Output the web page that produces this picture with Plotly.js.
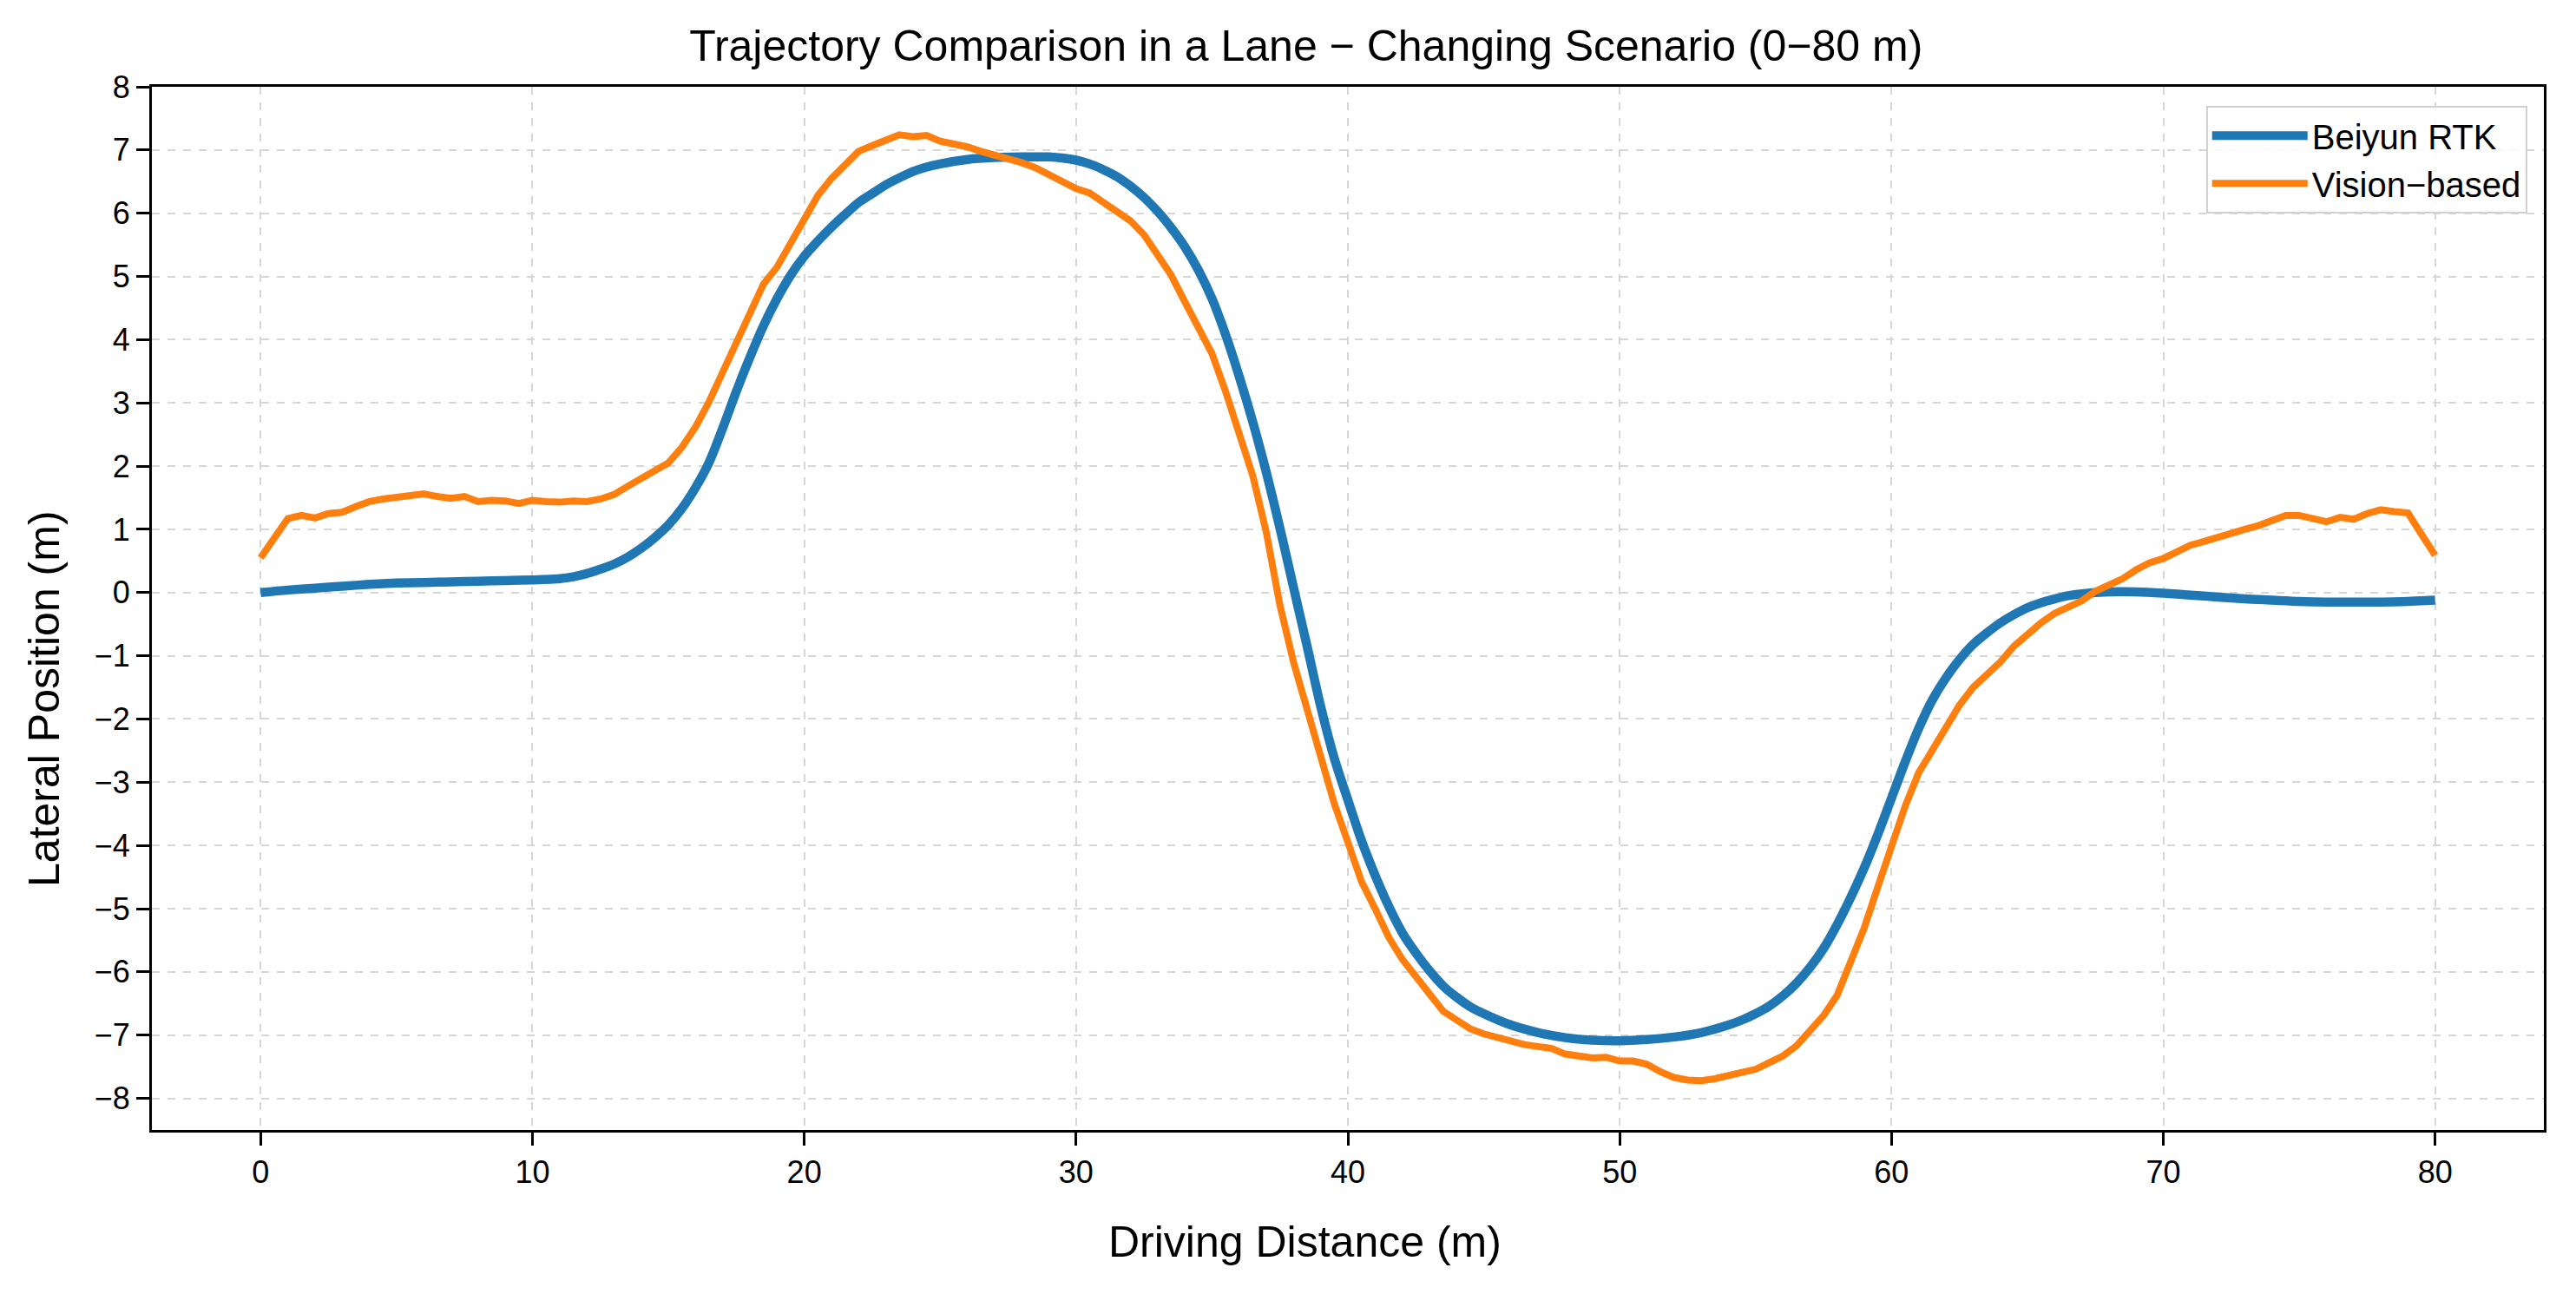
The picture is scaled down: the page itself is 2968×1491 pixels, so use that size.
<!DOCTYPE html>
<html>
<head>
<meta charset="utf-8">
<script src="https://cdn.plot.ly/plotly-3.0.1.min.js"></script>
<style>
  html, body { margin: 0; padding: 0; background: #fff; }
  #chart { width: 2968px; height: 1491px; }
</style>
</head>
<body>
<div id="chart"></div>
<script>
// Beiyun RTK reference trajectory
var rtkX = [0, 1, 2, 3, 4, 5, 6, 7, 8, 9, 10, 11, 11.5, 12, 12.5, 13, 13.5, 14, 14.5, 15, 15.5, 16, 16.5, 17, 17.5,
  18, 18.5, 19, 19.5, 20, 20.5, 21, 21.5, 22, 22.5, 23, 23.5, 24, 24.5, 25, 26, 27, 28, 29, 30, 30.5, 31, 31.5,
  32, 32.5, 33, 33.5, 34, 34.5, 35, 35.5, 36, 36.5, 37, 37.5, 38, 38.5, 39, 39.5, 40, 40.5, 41, 41.5, 42, 42.5,
  43, 43.5, 44, 44.5, 45, 46, 47, 48, 49, 50, 51, 52, 53, 54, 54.5, 55, 55.5, 56, 56.5, 57, 57.5, 58, 58.5, 59,
  59.5, 60, 60.5, 61, 61.5, 62, 62.5, 63, 63.5, 64, 64.5, 65, 65.5, 66, 66.5, 67, 68, 69, 70, 71, 72, 73, 74,
  75, 76, 77, 78, 79, 80];
var rtkY = [0.0, 0.04, 0.07, 0.10, 0.13, 0.15, 0.16, 0.17, 0.18, 0.19, 0.20, 0.22, 0.25, 0.30, 0.37, 0.45, 0.56,
  0.70, 0.87, 1.07, 1.33, 1.66, 2.06, 2.60, 3.18, 3.72, 4.22, 4.65, 5.02, 5.32, 5.56, 5.78, 5.98, 6.17, 6.31,
  6.45, 6.56, 6.66, 6.73, 6.78, 6.85, 6.88, 6.89, 6.89, 6.84, 6.78, 6.69, 6.58, 6.43, 6.25, 6.03, 5.77, 5.47,
  5.10, 4.65, 4.08, 3.42, 2.70, 1.90, 1.02, 0.08, -0.85, -1.80, -2.62, -3.28, -3.92, -4.47, -4.96, -5.38, -5.70,
  -5.98, -6.22, -6.40, -6.55, -6.66, -6.84, -6.96, -7.04, -7.08, -7.09, -7.07, -7.03, -6.96, -6.84, -6.76,
  -6.66, -6.54, -6.38, -6.18, -5.93, -5.63, -5.25, -4.82, -4.35, -3.82, -3.25, -2.68, -2.15, -1.70, -1.35,
  -1.06, -0.82, -0.64, -0.48, -0.35, -0.24, -0.16, -0.10, -0.05, -0.02, 0.01, 0.01, -0.01, -0.04, -0.07,
  -0.10, -0.12, -0.14, -0.15, -0.15, -0.15, -0.14, -0.12];

// Vision-based estimate
var visionX = [0, 0.5, 1, 1.5, 2, 2.5, 3, 3.5, 4, 4.5, 5, 5.5, 6, 6.5, 7, 7.5, 8, 8.5, 9, 9.5, 10, 10.5, 11, 11.5,
  12, 12.5, 13, 13.5, 14, 14.5, 15, 15.5, 16, 16.5, 17, 17.5, 18, 18.5, 19, 19.5, 20, 20.5, 21, 21.5, 22, 22.5,
  23, 23.5, 24, 24.5, 25, 25.5, 26, 26.5, 27, 27.5, 28, 28.5, 29, 29.5, 30, 30.5, 31, 31.5, 32, 32.5, 33, 33.5,
  34, 34.5, 35, 35.5, 36, 36.5, 37, 37.5, 38, 38.5, 39, 39.5, 40, 40.5, 41, 41.5, 42, 42.5, 43, 43.5, 44, 44.5,
  45, 45.5, 46, 46.5, 47, 47.5, 48, 48.5, 49, 49.5, 50, 50.5, 51, 51.5, 52, 52.5, 53, 53.5, 54, 54.5, 55, 55.5,
  56, 56.5, 57, 57.5, 58, 58.5, 59, 59.5, 60, 60.5, 61, 61.5, 62, 62.5, 63, 63.5, 64, 64.5, 65, 65.5, 66, 66.5,
  67, 67.5, 68, 68.5, 69, 69.5, 70, 70.5, 71, 71.5, 72, 72.5, 73, 73.5, 74, 74.5, 75, 75.5, 76, 76.5, 77, 77.5,
  78, 78.5, 79, 79.5, 80];
var visionY = [0.55, 0.87, 1.17, 1.22, 1.18, 1.25, 1.27, 1.36, 1.44, 1.48, 1.51, 1.54, 1.56, 1.52, 1.49, 1.52,
  1.44, 1.46, 1.45, 1.41, 1.46, 1.44, 1.43, 1.45, 1.44, 1.48, 1.55, 1.68, 1.80, 1.90, 2.05, 2.30, 2.62, 3.02,
  3.48, 3.95, 4.42, 4.88, 5.15, 5.52, 5.88, 6.28, 6.55, 6.75, 6.98, 7.07, 7.16, 7.24, 7.21, 7.23, 7.14, 7.10,
  7.05, 6.98, 6.92, 6.87, 6.80, 6.72, 6.60, 6.50, 6.39, 6.32, 6.18, 6.03, 5.88, 5.66, 5.35, 5.02, 4.60, 4.20,
  3.78, 3.18, 2.50, 1.85, 0.95, -0.20, -1.10, -1.85, -2.60, -3.34, -3.95, -4.57, -5.00, -5.45, -5.80, -6.08,
  -6.35, -6.62, -6.76, -6.90, -6.98, -7.04, -7.08, -7.15, -7.18, -7.21, -7.30, -7.32, -7.36, -7.35, -7.41,
  -7.41, -7.46, -7.58, -7.67, -7.71, -7.72, -7.69, -7.63, -7.59, -7.54, -7.44, -7.33, -7.17, -6.93, -6.69,
  -6.37, -5.85, -5.30, -4.65, -4.00, -3.38, -2.85, -2.50, -2.12, -1.78, -1.50, -1.30, -1.10, -0.85, -0.65,
  -0.48, -0.33, -0.22, -0.13, 0.02, 0.12, 0.22, 0.36, 0.47, 0.54, 0.66, 0.75, 0.81, 0.88, 0.95, 1.00, 1.06,
  1.13, 1.22, 1.22, 1.16, 1.12, 1.19, 1.16, 1.25, 1.31, 1.28, 1.26, 0.92, 0.59];

var xTicks = [0, 10, 20, 30, 40, 50, 60, 70, 80];
var yTicks = [-8, -7, -6, -5, -4, -3, -2, -1, 0, 1, 2, 3, 4, 5, 6, 7, 8];

var FONT = 'Liberation Sans, Arial, sans-serif';

CHART = document.getElementById('chart');
layout = {
  width: 2968,
  height: 1491,
  paper_bgcolor: '#ffffff',
  plot_bgcolor: '#ffffff',
  margin: {l: 175, r: 37, t: 100, b: 189, autoexpand: false},
  font: {family: FONT, color: '#000000'},
  title: {
    text: 'Trajectory Comparison in a Lane \u2212 Changing Scenario (0\u221280 m)',
    font: {family: FONT, size: 50, color: '#000000'},
    xref: 'container', x: 0.507, xanchor: 'center',
    yref: 'container', y: 0.965, yanchor: 'middle',
  },
  showlegend: true,
  legend: {
    x: 0.993, xanchor: 'right',
    y: 0.982, yanchor: 'top',
    bgcolor: 'rgba(255,255,255,0.85)',
    bordercolor: '#d0d0d0',
    borderwidth: 2,
    font: {family: FONT, size: 40, color: '#000000'},
    itemwidth: 110,
    tracegroupgap: 8,
  },
  xaxis: {
    range: [-4, 84],
    tickvals: xTicks,
    ticks: 'outside', ticklen: 15, tickwidth: 3, tickcolor: '#000000',
    tickfont: {family: FONT, size: 36, color: '#000000'},
    showline: true, linecolor: '#000000', linewidth: 3, mirror: true,
    showgrid: true, gridcolor: '#d6d6d6', gridwidth: 2, griddash: 'dash',
    zeroline: false,
  },
  yaxis: {
    range: [-8.5, 8],
    tickvals: yTicks,
    ticks: 'outside', ticklen: 15, tickwidth: 3, tickcolor: '#000000',
    tickfont: {family: FONT, size: 36, color: '#000000'},
    showline: true, linecolor: '#000000', linewidth: 3, mirror: true,
    showgrid: true, gridcolor: '#d6d6d6', gridwidth: 2, griddash: 'dash',
    zeroline: false,
  },
  annotations: [
    {
      text: 'Driving Distance (m)',
      xref: 'paper', yref: 'paper', x: 0.482, y: -0.107,
      xanchor: 'center', yanchor: 'middle', showarrow: false,
      font: {family: FONT, size: 50, color: '#000000'},
    },
    {
      text: 'Lateral Position (m)',
      xref: 'paper', yref: 'paper', x: -0.045, y: 0.4135,
      xanchor: 'center', yanchor: 'middle', showarrow: false, textangle: -90,
      font: {family: FONT, size: 50, color: '#000000'},
    },
  ],
};

Plotly.newPlot(CHART, [
  {
    x: rtkX,
    y: rtkY,
    type: 'scatter',
    mode: 'lines',
    name: 'Beiyun RTK',
    line: {color: '#1f77b4', width: 10.5, shape: 'spline', smoothing: 0.8},
  },
  {
    x: visionX,
    y: visionY,
    type: 'scatter',
    mode: 'lines',
    name: 'Vision\u2212based',
    line: {color: '#ff7f0e', width: 8},
  }], layout, {staticPlot: true});
</script>
</body>
</html>
